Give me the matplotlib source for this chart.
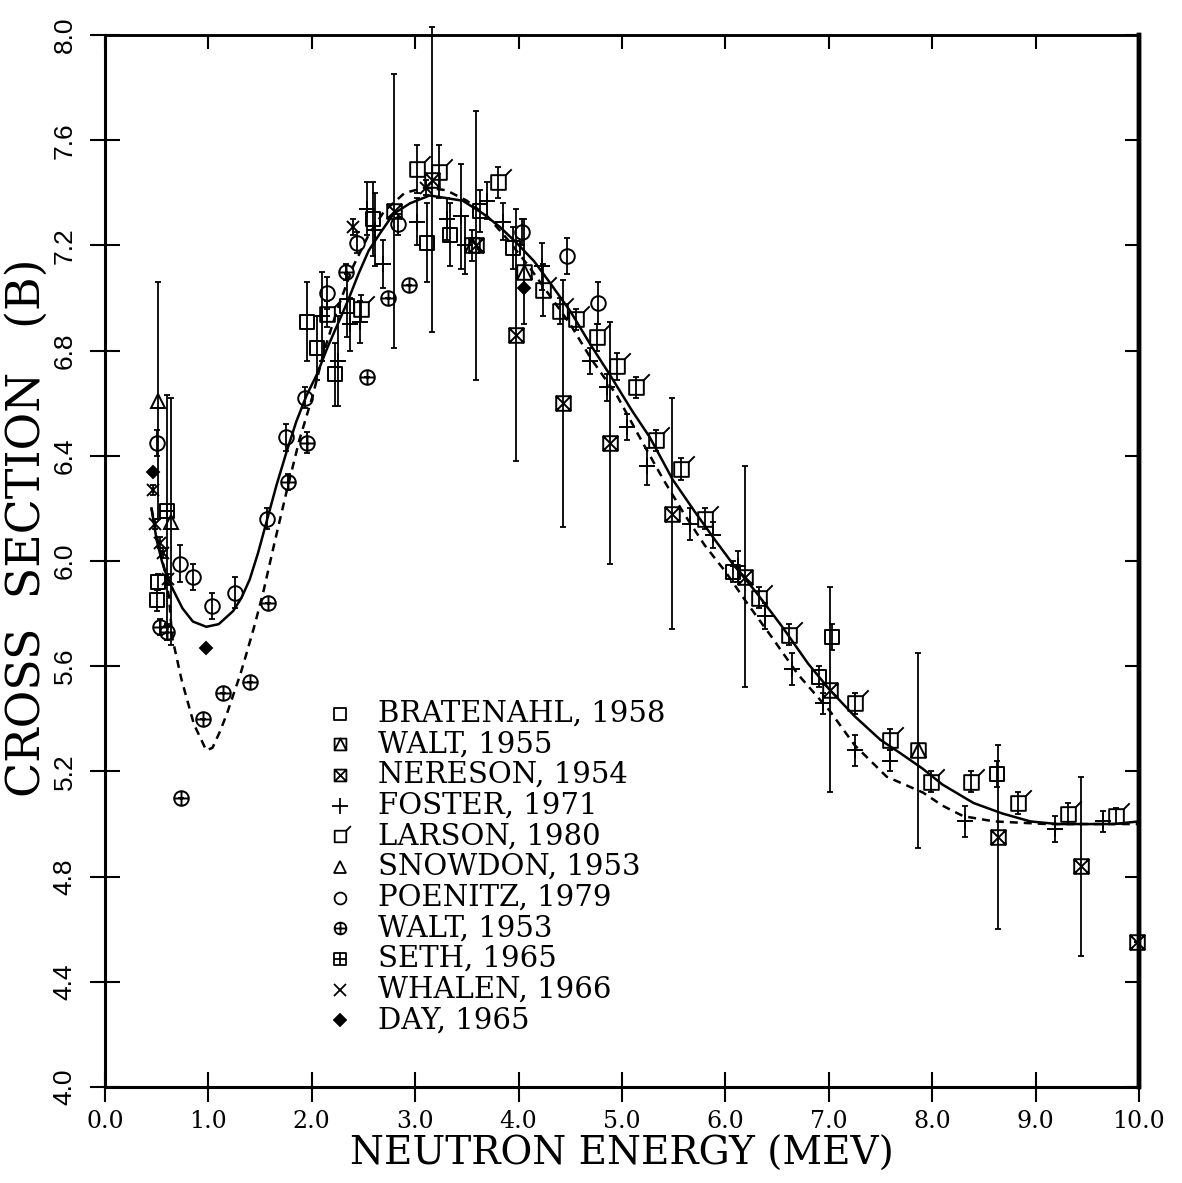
import matplotlib
matplotlib.use("Agg")
import matplotlib.pyplot as plt
from matplotlib.path import Path

# ---------------- data ----------------
solid_x = [0.45, 0.50, 0.55, 0.60, 0.66, 0.75, 0.85, 0.98, 1.10, 1.24, 1.32, 1.40, 1.48, 1.57,
           1.66, 1.76, 1.85, 1.95, 2.05, 2.15, 2.25, 2.35, 2.45, 2.55, 2.65, 2.79, 2.95, 3.14,
           3.30, 3.46, 3.66, 3.82, 3.98, 4.15, 4.30, 4.50, 4.70, 4.88, 5.10, 5.27, 5.49, 5.70,
           5.90, 6.07, 6.30, 6.55, 6.80, 7.01, 7.25, 7.50, 7.69, 7.91, 8.10, 8.40, 8.68, 8.95,
           9.21, 9.50, 9.75, 10.0]
solid_y = [6.20, 6.08, 6.00, 5.94, 5.89, 5.82, 5.77, 5.75, 5.76, 5.81, 5.86, 5.93, 6.03, 6.16,
           6.29, 6.42, 6.53, 6.63, 6.71, 6.81, 6.90, 6.99, 7.09, 7.18, 7.24, 7.32, 7.36, 7.39,
           7.38, 7.37, 7.32, 7.27, 7.21, 7.14, 7.06, 6.95, 6.82, 6.71, 6.57, 6.47, 6.31, 6.19,
           6.08, 5.99, 5.88, 5.75, 5.61, 5.51, 5.41, 5.32, 5.27, 5.21, 5.15, 5.08, 5.04, 5.01,
           5.00, 5.00, 5.00, 5.01]

dash_x = [0.45, 0.52, 0.58, 0.62, 0.65, 0.74, 0.86, 0.98, 1.04, 1.11, 1.18, 1.24, 1.31, 1.37,
          1.45, 1.53, 1.64, 1.76, 1.88, 2.01, 2.12, 2.25, 2.40, 2.55, 2.70, 2.90, 3.10, 3.30,
          3.50, 3.70, 3.90, 4.10, 4.30, 4.50, 4.70, 4.95, 5.20, 5.40, 5.60, 5.80, 6.00, 6.21,
          6.45, 6.70, 7.01, 7.25, 7.56, 7.91, 8.10, 8.30, 8.60, 9.11, 9.50, 10.0]
dash_y = [6.20, 6.06, 5.96, 5.86, 5.71, 5.55, 5.38, 5.28, 5.29, 5.35, 5.42, 5.49, 5.57, 5.65,
          5.76, 5.88, 6.07, 6.27, 6.46, 6.63, 6.80, 6.96, 7.12, 7.24, 7.33, 7.40, 7.42, 7.41,
          7.37, 7.31, 7.22, 7.12, 7.01, 6.90, 6.77, 6.63, 6.45, 6.31, 6.18, 6.06, 5.96, 5.84,
          5.71, 5.57, 5.43, 5.30, 5.18, 5.12, 5.07, 5.03, 5.01, 5.00, 5.00, 5.00]

bratenahl_x = [0.50, 0.51, 1.95, 2.05, 2.22, 2.34, 2.59, 3.11, 3.34, 3.63, 3.95, 6.07, 6.91, 7.03, 8.63]
bratenahl_y = [5.85, 5.92, 6.91, 6.81, 6.71, 6.97, 7.30, 7.21, 7.24, 7.33, 7.19, 5.96, 5.56, 5.71, 5.19]
bratenahl_e = [0.04, 0.03, 0.15, 0.12, 0.12, 0.12, 0.14, 0.15, 0.12, 0.08, 0.08, 0.04, 0.04, 0.05, 0.05]

walt55_x = [3.55, 4.05, 7.86]
walt55_y = [7.20, 7.10, 5.28]
walt55_e = [0.06, 0.20, 0.37]

nereson_x = [2.80, 3.16, 3.59, 3.98, 4.43, 4.88, 5.48, 6.19, 7.01, 8.64, 9.44, 9.98]
nereson_y = [7.33, 7.45, 7.20, 6.86, 6.60, 6.45, 6.18, 5.94, 5.51, 4.95, 4.84, 4.55]
nereson_e = [0.52, 0.58, 0.51, 0.48, 0.47, 0.46, 0.44, 0.42, 0.39, 0.35, 0.34, 0.0]

foster_x = [2.10, 2.25, 2.37, 2.47, 2.53, 2.61, 2.69, 3.02, 3.31, 3.44, 3.48, 3.69, 3.85, 4.23,
            4.69, 4.86, 5.05, 5.24, 5.66, 5.88, 6.12, 6.38, 6.64, 6.94, 7.25, 7.59, 8.32, 9.19, 9.65]
foster_y = [6.93, 6.76, 6.90, 6.91, 7.34, 7.26, 7.13, 7.29, 7.30, 7.31, 7.20, 7.37, 7.29, 7.12,
            6.76, 6.66, 6.51, 6.36, 6.14, 6.10, 5.98, 5.79, 5.59, 5.46, 5.28, 5.24, 5.01, 4.98, 5.01]
foster_e = [0.17, 0.17, 0.10, 0.08, 0.10, 0.14, 0.09, 0.09, 0.08, 0.20, 0.11, 0.07, 0.07, 0.09,
            0.05, 0.05, 0.05, 0.07, 0.06, 0.05, 0.06, 0.05, 0.06, 0.04, 0.06, 0.04, 0.06, 0.05, 0.04]

larson_x = [2.15, 2.48, 3.02, 3.23, 3.80, 4.24, 4.40, 4.56, 4.76, 4.95, 5.14, 5.33, 5.57, 5.80,
            6.33, 6.62, 7.25, 7.59, 7.99, 8.38, 8.83, 9.31, 9.78]
larson_y = [6.94, 6.96, 7.49, 7.48, 7.44, 7.03, 6.95, 6.92, 6.85, 6.74, 6.66, 6.46, 6.35, 6.16,
            5.86, 5.72, 5.46, 5.32, 5.16, 5.16, 5.08, 5.04, 5.03]
larson_e = [0.05, 0.05, 0.09, 0.10, 0.06, 0.10, 0.05, 0.04, 0.05, 0.05, 0.04, 0.04, 0.04, 0.04,
            0.04, 0.04, 0.04, 0.04, 0.04, 0.04, 0.04, 0.04, 0.03]

snowdon_x = [0.51, 0.64]
snowdon_y = [6.61, 6.15]
snowdon_e = [0.45, 0.47]

poenitz_x = [0.50, 0.73, 0.85, 1.04, 1.26, 1.57, 1.75, 1.93, 2.15, 2.44, 2.83, 4.03, 4.47, 4.77]
poenitz_y = [6.45, 5.99, 5.94, 5.83, 5.88, 6.16, 6.47, 6.62, 7.02, 7.21, 7.28, 7.25, 7.16, 6.98]
poenitz_e = [0.05, 0.07, 0.05, 0.05, 0.06, 0.04, 0.05, 0.04, 0.06, 0.04, 0.04, 0.05, 0.07, 0.08]

walt53_x = [0.53, 0.60, 0.74, 0.95, 1.14, 1.40, 1.58, 1.77, 1.95, 2.33, 2.53, 2.74, 2.94]
walt53_y = [5.75, 5.73, 5.10, 5.40, 5.50, 5.54, 5.84, 6.30, 6.45, 7.10, 6.70, 7.00, 7.05]
walt53_e = [0.03, 0.03, 0.0, 0.0, 0.0, 0.0, 0.0, 0.03, 0.04, 0.03, 0.0, 0.0, 0.0]

seth_x = [0.60]
seth_y = [6.19]
seth_e = [0.44]

whalen_x = [0.46, 0.48, 0.53, 0.56, 0.61, 2.40, 3.10]
whalen_y = [6.27, 6.14, 6.07, 6.03, 5.93, 7.27, 7.42]
whalen_e = [0.02, 0.02, 0.02, 0.02, 0.02, 0.03, 0.03]

day_x = [0.46, 0.98, 4.05]
day_y = [6.34, 5.67, 7.04]
day_e = [0.0, 0.0, 0.0]

labels = ["BRATENAHL, 1958", "WALT, 1955", "NERESON, 1954", "FOSTER, 1971",
          "LARSON, 1980", "SNOWDON, 1953", "POENITZ, 1979", "WALT, 1953",
          "SETH, 1965", "WHALEN, 1966", "DAY, 1965"]

x_ticks = [0, 1, 2, 3, 4, 5, 6, 7, 8, 9, 10]
x_ticklabels = ["0.0", "1.0", "2.0", "3.0", "4.0", "5.0", "6.0", "7.0", "8.0", "9.0", "10.0"]
y_ticks = [4.0, 4.4, 4.8, 5.2, 5.6, 6.0, 6.4, 6.8, 7.2, 7.6, 8.0]
y_ticklabels = ["4.0", "4.4", "4.8", "5.2", "5.6", "6.0", "6.4", "6.8", "7.2", "7.6", "8.0"]

# ---------------- marker shapes ----------------
M, L, C = Path.MOVETO, Path.LINETO, Path.CLOSEPOLY
SQ_V = [(-1, -1), (1, -1), (1, 1), (-1, 1), (-1, -1)]
SQ_C = [M, L, L, L, C]
m_square = Path(SQ_V, SQ_C)
m_sq_tri = Path(SQ_V + [(-1, -1), (0, 1), (1, -1)], SQ_C + [M, L, L])
m_sq_x = Path(SQ_V + [(-1, -1), (1, 1), (-1, 1), (1, -1)], SQ_C + [M, L, M, L])
m_sq_plus = Path(SQ_V + [(0, -1), (0, 1), (-1, 0), (1, 0)], SQ_C + [M, L, M, L])
m_sq_tick = Path(SQ_V + [(1, 1), (1.8, 1.8)], SQ_C + [M, L])
circ = Path.unit_circle()
m_circ_plus = Path.make_compound_path(circ, Path([(-1, 0), (1, 0)], [M, L]),
                                      Path([(0, -1), (0, 1)], [M, L]))

series = [
    (bratenahl_x, bratenahl_y, bratenahl_e, m_square, 10.5, 8.5, 'none'),
    (walt55_x, walt55_y, walt55_e, m_sq_tri, 10.5, 8.5, 'none'),
    (nereson_x, nereson_y, nereson_e, m_sq_x, 10.5, 8.5, 'none'),
    (foster_x, foster_y, foster_e, '+', 11, 11, 'none'),
    (larson_x, larson_y, larson_e, m_sq_tick, 19, 15, 'none'),
    (snowdon_x, snowdon_y, snowdon_e, '^', 10.5, 8.5, 'none'),
    (poenitz_x, poenitz_y, poenitz_e, 'o', 10.5, 8.5, 'none'),
    (walt53_x, walt53_y, walt53_e, m_circ_plus, 10.5, 8.5, 'none'),
    (seth_x, seth_y, seth_e, m_sq_plus, 10.5, 8.5, 'none'),
    (whalen_x, whalen_y, whalen_e, 'x', 9, 8.5, 'none'),
    (day_x, day_y, day_e, 'D', 6, 6.5, 'black'),
]

# ---------------- figure ----------------
fig = plt.figure(figsize=(11.82, 11.83), dpi=100)
ax = fig.add_axes([0.0888, 0.0811, 0.8748, 0.8893])
ax.set_xlim(0, 10)
ax.set_ylim(4.0, 8.0)

ax.plot(solid_x, solid_y, color='black', lw=1.8, zorder=3)
ax.plot(dash_x, dash_y, color='black', lw=1.8, ls=(0, (3.2, 2.4)), zorder=3)

for xs, ys, es, mk, ms, lms, fc in series:
    ax.errorbar(xs, ys, yerr=es, fmt='none', ecolor='black', elinewidth=1.3,
                capsize=2.2, capthick=1.3, zorder=4, clip_on=False)
    ax.plot(xs, ys, ls='none', marker=mk, ms=ms, mfc=fc, mec='black', mew=1.4,
            zorder=5, clip_on=False)

# legend drawn by hand
leg_y0, leg_dy = 0.355, 0.02915
for i, (lab, s) in enumerate(zip(labels, series)):
    yy = leg_y0 - i * leg_dy
    ax.plot([0.227], [yy], transform=ax.transAxes, ls='none', marker=s[3],
            ms=s[5], mfc=s[6], mec='black', mew=1.3, clip_on=False)
    ax.text(0.264, yy, lab, transform=ax.transAxes, ha='left', va='center',
            fontsize=21, family='DejaVu Serif')

# spines
for side, lw in (('left', 2.2), ('bottom', 2.2), ('top', 1.8), ('right', 3.2)):
    ax.spines[side].set_linewidth(lw)

ax.set_xticks(x_ticks)
ax.set_xticklabels(x_ticklabels, family='DejaVu Serif', fontsize=17)
ax.set_yticks(y_ticks)
ax.set_yticklabels(y_ticklabels, family='Liberation Sans', fontsize=19, rotation=90,
                   va='center')
ax.tick_params(axis='both', direction='inout', length=21, width=1.5)
ax.tick_params(axis='x', pad=6)
ax.tick_params(axis='y', pad=10)

sx = ax.secondary_xaxis('top')
sx.set_xticks(x_ticks)
sx.tick_params(direction='in', length=10, width=1.5, labeltop=False)
sx.spines['top'].set_linewidth(1.8)
sy = ax.secondary_yaxis('right')
sy.set_yticks(y_ticks)
sy.tick_params(direction='in', length=10, width=1.5, labelright=False)
sy.spines['right'].set_linewidth(3.2)

ax.set_xlabel("NEUTRON ENERGY (MEV)", family='DejaVu Serif', fontsize=28, labelpad=2)
ax.set_ylabel("CROSS  SECTION   (B)", family='DejaVu Serif', fontsize=33)
ax.yaxis.set_label_coords(-0.053, 0.532)

fig.savefig("out.png", dpi=100)
